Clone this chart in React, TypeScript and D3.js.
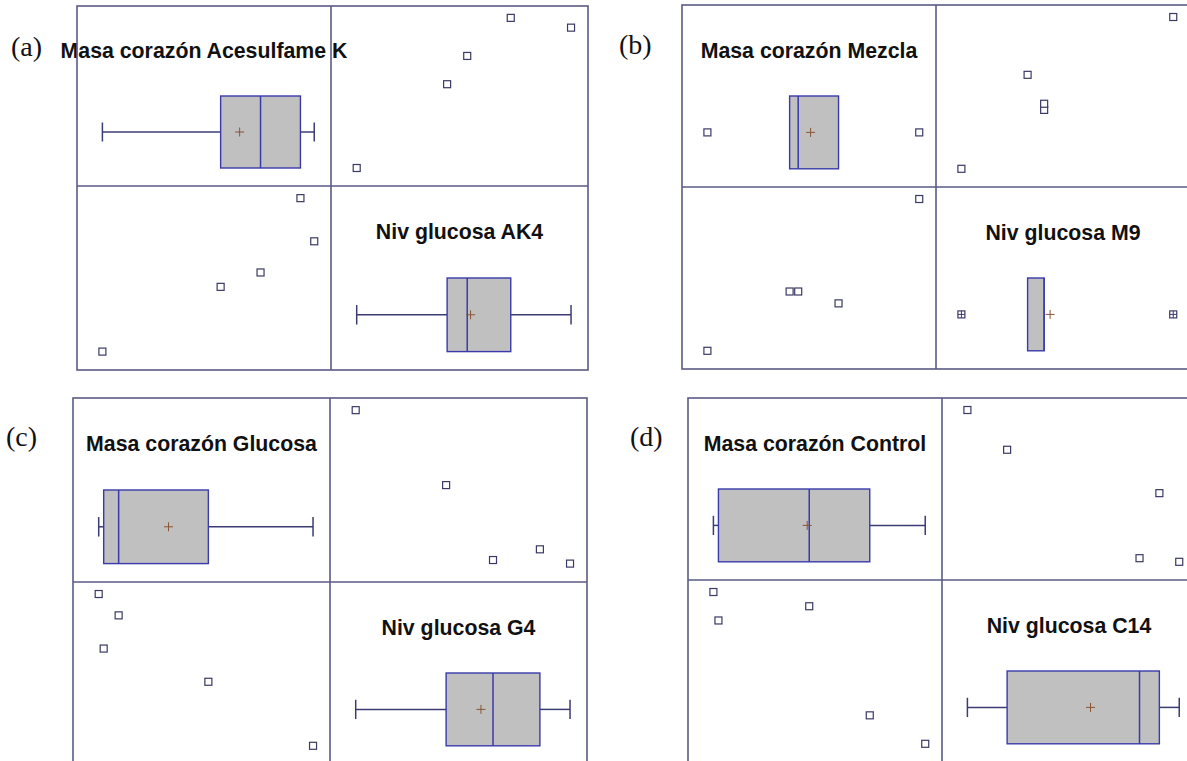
import React from "react";
import * as d3 from "d3";

// heart mass (g) and glucose level (mg/dL), five animals per group, same order in both arrays
const masaAcesulfame = [0.95, 1.19, 1.271, 1.352, 1.38];
const glucosaAK4 = [82, 109, 115, 146, 128];
const masaMezcla = [1.0, 1.163, 1.18, 1.26, 1.42];
const glucosaM9 = [90, 115, 115, 110, 154];
const masaGlucosa = [0.98, 0.99, 1.02, 1.2, 1.41];
const glucosaG4 = [142, 119, 133, 105, 78];
const masaControl = [1.05, 1.06, 1.24, 1.36, 1.47];
const glucosaC14 = [144, 132, 138, 92, 80];

const panelLabels = ["(a)", "(b)", "(c)", "(d)"];
const masaTitles = [
  "Masa corazón Acesulfame K",
  "Masa corazón Mezcla",
  "Masa corazón Glucosa",
  "Masa corazón Control",
];
const glucosaTitles = ["Niv glucosa AK4", "Niv glucosa M9", "Niv glucosa G4", "Niv glucosa C14"];

const masaSeries = [masaAcesulfame, masaMezcla, masaGlucosa, masaControl];
const glucosaSeries = [glucosaAK4, glucosaM9, glucosaG4, glucosaC14];

// frame of every scatterplot matrix
const frames = [
  { x0: 77, xm: 331, x1: 588, y0: 6, ym: 186, y1: 370, lx: 11, ly: 56 },
  { x0: 682, xm: 936, x1: 1190, y0: 5, ym: 187, y1: 369, lx: 619, ly: 54 },
  { x0: 73, xm: 330, x1: 587, y0: 398, ym: 582, y1: 764, lx: 6, ly: 446 },
  { x0: 688, xm: 942, x1: 1196, y0: 398, ym: 580, y1: 762, lx: 630, ly: 446 },
];

const FRAME = "#5a5a84";
const BOXFILL = "#c0c0c0";
const BOXLINE = "#3a3aac";
const WHISK = "#3c3c74";
const MEAN = "#8a5434";
const PT = "#3a3a66";

function varScale(vals: number[], a: number, b: number) {
  const ext = d3.extent(vals) as [number, number];
  return d3.scaleLinear().domain(ext).range([a + (b - a) * 0.1, a + (b - a) * 0.934]);
}

function Marker({ x, y, far }: { x: number; y: number; far?: boolean }) {
  const h = 3.5;
  return (
    <g>
      <rect x={x - h} y={y - h} width={h * 2} height={h * 2} fill="white" stroke={PT} strokeWidth={1.2} />
      {far && (
        <path d={`M${x - h},${y}H${x + h}M${x},${y - h}V${y + h}`} stroke={PT} strokeWidth={1} />
      )}
    </g>
  );
}

function BoxCell({ values, title, x0, x1, y0, y1 }: any) {
  const w = x1 - x0;
  const h = y1 - y0;
  const x = varScale(values, x0, x1);
  const s = [...values].sort(d3.ascending);
  const q1 = d3.quantileSorted(s, 0.25)!;
  const med = d3.quantileSorted(s, 0.5)!;
  const q3 = d3.quantileSorted(s, 0.75)!;
  const iqr = q3 - q1;
  const lf = q1 - 1.5 * iqr;
  const uf = q3 + 1.5 * iqr;
  const wLo = d3.min(s.filter((v) => v >= lf))!;
  const wHi = d3.max(s.filter((v) => v <= uf))!;
  const outl = s.filter((v) => v < lf || v > uf);
  const mean = d3.mean(s)!;
  const cy = y0 + h * 0.7;
  const bh = h * 0.2;
  const cap = h * 0.053;
  return (
    <g>
      <text
        x={x0 + w / 2}
        y={y0 + h * 0.29}
        textAnchor="middle"
        fontFamily="'Liberation Sans', Arial, sans-serif"
        fontWeight="bold"
        fontSize={21.3}
        fill="#111"
      >
        {title}
      </text>
      {wLo < q1 && (
        <g stroke={WHISK} strokeWidth={1.5}>
          <line x1={x(wLo)} x2={x(q1)} y1={cy} y2={cy} />
          <line x1={x(wLo)} x2={x(wLo)} y1={cy - cap} y2={cy + cap} />
        </g>
      )}
      {wHi > q3 && (
        <g stroke={WHISK} strokeWidth={1.5}>
          <line x1={x(q3)} x2={x(wHi)} y1={cy} y2={cy} />
          <line x1={x(wHi)} x2={x(wHi)} y1={cy - cap} y2={cy + cap} />
        </g>
      )}
      <rect
        x={x(q1)}
        y={cy - bh}
        width={Math.max(x(q3) - x(q1), 0)}
        height={bh * 2}
        fill={BOXFILL}
        stroke={BOXLINE}
        strokeWidth={1.4}
      />
      <line x1={x(med)} x2={x(med)} y1={cy - bh} y2={cy + bh} stroke={BOXLINE} strokeWidth={1.5} />
      <path
        d={`M${x(mean) - 4.5},${cy}H${x(mean) + 4.5}M${x(mean)},${cy - 4.5}V${cy + 4.5}`}
        stroke={MEAN}
        strokeWidth={1}
      />
      {outl.map((v, i) => (
        <Marker key={i} x={x(v)} y={cy} far={v < q1 - 3 * iqr || v > q3 + 3 * iqr} />
      ))}
    </g>
  );
}

function ScatterCell({ xs, ys, x0, x1, y0, y1 }: any) {
  const x = varScale(xs, x0, x1);
  const y = varScale(ys, y1, y0);
  return (
    <g>
      {xs.map((v: number, i: number) => (
        <Marker key={i} x={x(v)} y={y(ys[i])} />
      ))}
    </g>
  );
}

function Panel({ i }: { i: number }) {
  const f = frames[i];
  const masa = masaSeries[i];
  const gluc = glucosaSeries[i];
  return (
    <g>
      <text x={f.lx} y={f.ly} fontFamily="'Liberation Serif', 'Times New Roman', serif" fontSize={28} fill="#111">
        {panelLabels[i]}
      </text>
      <BoxCell values={masa} title={masaTitles[i]} x0={f.x0} x1={f.xm} y0={f.y0} y1={f.ym} />
      <ScatterCell xs={gluc} ys={masa} x0={f.xm} x1={f.x1} y0={f.y0} y1={f.ym} />
      <ScatterCell xs={masa} ys={gluc} x0={f.x0} x1={f.xm} y0={f.ym} y1={f.y1} />
      <BoxCell values={gluc} title={glucosaTitles[i]} x0={f.xm} x1={f.x1} y0={f.ym} y1={f.y1} />
      <g stroke={FRAME} strokeWidth={1.6} fill="none">
        <rect x={f.x0} y={f.y0} width={f.x1 - f.x0} height={f.y1 - f.y0} />
        <line x1={f.xm} x2={f.xm} y1={f.y0} y2={f.y1} />
        <line x1={f.x0} x2={f.x1} y1={f.ym} y2={f.ym} />
      </g>
    </g>
  );
}

export default function App() {
  return (
    <svg
      width={1187}
      height={761}
      style={{ position: "absolute", left: 0, top: 0, background: "white" }}
    >
      {panelLabels.map((_, i) => (
        <Panel key={i} i={i} />
      ))}
    </svg>
  );
}
